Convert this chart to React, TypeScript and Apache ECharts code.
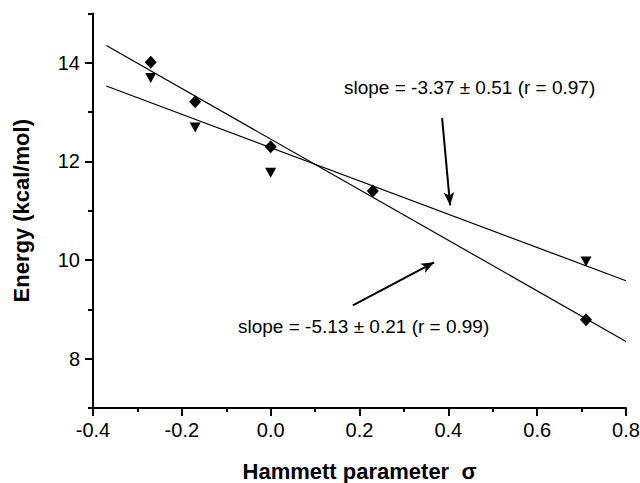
import React, { useEffect, useRef } from "react";
import * as echarts from "echarts";

const diamondX = [-0.27, -0.17, 0.0, 0.23, 0.71];
const diamondY = [14.01, 13.21, 12.3, 11.4, 8.79];
const triangleX = [-0.27, -0.17, 0.0, 0.71];
const triangleY = [13.69, 12.69, 11.77, 9.97];
const fitX = [-0.37, 0.8];
const steepFitY = [14.35, 8.35];
const shallowFitY = [13.53, 9.58];
const yMajorTicks = [8, 10, 12, 14];
const yMinorTicks = [7, 9, 11, 13, 15];
const arrowShallow = [[0.386, 12.88], [0.404, 11.11]];
const arrowSteep = [[0.185, 9.08], [0.368, 9.955]];
const labelShallow = "slope = -3.37 \u00b1 0.51 (r = 0.97)";
const labelSteep = "slope = -5.13 \u00b1 0.21 (r = 0.99)";
const xTitle = "Hammett parameter  \u03c3";
const yTitle = "Energy (kcal/mol)";

const FONT = "'Liberation Sans', Arial, sans-serif";

export default function App() {
  const ref = useRef<HTMLDivElement>(null);
  useEffect(() => {
    if (!ref.current) return;
    const chart = echarts.init(ref.current, null, { renderer: "svg" });
    const zip = (xs: number[], ys: number[]) => xs.map((x, i) => [x, ys[i]]);
    chart.setOption({
      animation: false,
      backgroundColor: "#ffffff",
      textStyle: { fontFamily: FONT },
      grid: { left: 93, right: 14, top: 13.5, bottom: 75, outerBoundsMode: "none", containLabel: false },
      xAxis: {
        type: "value",
        min: -0.4,
        max: 0.8,
        interval: 0.2,
        name: xTitle,
        nameLocation: "middle",
        nameGap: 52,
        nameTextStyle: { fontFamily: FONT, fontSize: 22, fontWeight: "bold", color: "#000" },
        axisLine: { show: true, onZero: false, lineStyle: { color: "#000", width: 2 } },
        axisTick: { show: true, length: 8, lineStyle: { color: "#000", width: 2 } },
        minorTick: { show: true, splitNumber: 2, length: 4, lineStyle: { color: "#000", width: 2 } },
        axisLabel: {
          margin: 12,
          fontFamily: FONT,
          fontSize: 20,
          color: "#000",
          formatter: (v: number) => v.toFixed(1),
        },
        splitLine: { show: false },
      },
      yAxis: [
        {
          type: "value",
          min: 7,
          max: 15,
          interval: 1,
          position: "left",
          name: yTitle,
          nameLocation: "middle",
          nameGap: 61,
          nameTextStyle: { fontFamily: FONT, fontSize: 22, fontWeight: "bold", color: "#000" },
          axisLine: { show: true, onZero: false, lineStyle: { color: "#000", width: 2 } },
          axisTick: { show: true, length: 8, customValues: yMajorTicks, lineStyle: { color: "#000", width: 2 } },
          axisLabel: { margin: 13, fontFamily: FONT, fontSize: 20, color: "#000", customValues: yMajorTicks },
          splitLine: { show: false },
        },
        {
          type: "value",
          min: 7,
          max: 15,
          interval: 1,
          position: "left",
          axisLine: { show: false, onZero: false },
          axisTick: { show: true, length: 5, customValues: yMinorTicks, lineStyle: { color: "#000", width: 2 } },
          axisLabel: { show: false },
          splitLine: { show: false },
        },
      ],
      series: [
        {
          type: "line",
          data: zip(fitX, steepFitY),
          symbol: "none",
          lineStyle: { color: "#000", width: 1.2 },
          silent: true,
          z: 2,
        },
        {
          type: "line",
          data: zip(fitX, shallowFitY),
          symbol: "none",
          lineStyle: { color: "#000", width: 1.2 },
          silent: true,
          z: 2,
          markLine: {
            silent: true,
            symbol: ["none", "arrow"],
            symbolSize: [8, 13],
            label: { show: false },
            lineStyle: { color: "#000", width: 2, type: "solid" },
            data: [
              [{ coord: arrowShallow[0] }, { coord: arrowShallow[1] }],
              [{ coord: arrowSteep[0] }, { coord: arrowSteep[1] }],
            ],
          },
        },
        {
          type: "scatter",
          data: zip(triangleX, triangleY),
          symbol: "triangle",
          symbolRotate: 180,
          symbolSize: [11, 10],
          itemStyle: { color: "#000", opacity: 1 },
          z: 3,
        },
        {
          type: "scatter",
          data: zip(diamondX, diamondY),
          symbol: "diamond",
          symbolSize: [12, 13],
          itemStyle: { color: "#000", opacity: 1 },
          z: 4,
        },
      ],
      graphic: [
        {
          type: "text",
          x: 344,
          y: 87,
          style: { text: labelShallow, font: `19px ${FONT}`, fill: "#000", textVerticalAlign: "middle", textAlign: "left" },
        },
        {
          type: "text",
          x: 238,
          y: 326,
          style: { text: labelSteep, font: `19px ${FONT}`, fill: "#000", textVerticalAlign: "middle", textAlign: "left" },
        },
      ],
    });
    return () => chart.dispose();
  }, []);
  return <div ref={ref} style={{ position: "fixed", left: 0, top: 0, width: 640, height: 483 }} />;
}
